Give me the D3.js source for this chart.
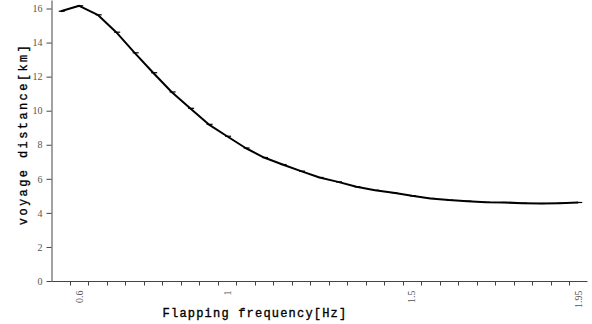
<!DOCTYPE html>
<html>
<head>
<meta charset="utf-8">
<script src="https://cdn.jsdelivr.net/npm/d3@7"></script>
<style>
    body { margin: 0; background: #fff; }
    svg { display: block; }
</style>
</head>
<body>
<svg id="chart" width="592" height="324"></svg>
<script>
// flapping frequency categories (Hz) and the voyage distance read at each
const frequencies = [0.55, 0.6, 0.65, 0.7, 0.75, 0.8, 0.85, 0.9, 0.95, 1, 1.05, 1.1, 1.15, 1.2, 1.25,
    1.3, 1.35, 1.4, 1.45, 1.5, 1.55, 1.6, 1.65, 1.7, 1.75, 1.8, 1.85, 1.9, 1.95];
const distances = [15.84, 16.16, 15.63, 14.61, 13.4, 12.23, 11.1, 10.14, 9.2, 8.5, 7.81, 7.25, 6.84, 6.45, 6.08,
    5.82, 5.53, 5.33, 5.18, 5.0, 4.85, 4.75, 4.69, 4.63, 4.61, 4.57, 4.55, 4.57, 4.61];
const xLabels = [0.6, 1, 1.5, 1.95];
const yTicks = [0, 2, 4, 6, 8, 10, 12, 14, 16];

const svg = d3.select('#chart');
const points = frequencies.map((f, i) => ({f: f, d: distances[i]}));

const x = d3.scaleBand()
    .domain(frequencies)
    .range([51.5, 587.5]);

const y = d3.scaleLinear()
    .domain([0, 16.5])
    .range([281, 0]);

// y axis
const yAxis = svg.append('g')
    .attr('transform', 'translate(51.5,0)')
    .call(d3.axisLeft(y).tickValues(yTicks).tickSize(5).tickSizeOuter(0).tickPadding(4));
yAxis.select('.domain').attr('stroke', '#444');
yAxis.selectAll('.tick line').attr('stroke', '#444');
yAxis.selectAll('.tick text')
    .attr('fill', '#555')
    .style('font', '10px "Liberation Serif", serif');

// x axis: ticks on category boundaries, labels at category centres
const xAxisG = svg.append('g').attr('transform', 'translate(0,281.5)');
xAxisG.append('line')
    .attr('x1', x.range()[0]).attr('x2', x.range()[1])
    .attr('stroke', '#444');
xAxisG.selectAll('line.tick')
    .data(frequencies.slice(1))
    .join('line')
    .attr('class', 'tick')
    .attr('x1', d => Math.round(x(d)) + 0.5).attr('x2', d => Math.round(x(d)) + 0.5)
    .attr('y1', 0).attr('y2', 4)
    .attr('stroke', '#444');
xAxisG.selectAll('text')
    .data(xLabels)
    .join('text')
    .attr('transform', d => `translate(${x(d) + x.bandwidth() / 2 + 3.5},9) rotate(-90)`)
    .attr('text-anchor', 'end')
    .attr('fill', '#555')
    .style('font', '10px "Liberation Serif", serif')
    .text(d => d);

// axis titles
svg.append('text')
    .attr('transform', 'translate(27,134) rotate(-90)')
    .attr('text-anchor', 'middle')
    .attr('fill', '#000')
    .attr('stroke', '#000')
    .attr('stroke-width', 0.35)
    .style('font', '12px "Liberation Mono", monospace')
    .style('letter-spacing', '2.4px')
    .text('voyage distance[km]');

svg.append('text')
    .attr('x', 255)
    .attr('y', 317)
    .attr('text-anchor', 'middle')
    .attr('fill', '#000')
    .attr('stroke', '#000')
    .attr('stroke-width', 0.35)
    .style('font', '12px "Liberation Mono", monospace')
    .style('letter-spacing', '1.2px')
    .text('Flapping frequency[Hz]');

// line through the points
const line = d3.line()
    .x(p => x(p.f) + x.bandwidth() / 2)
    .y(p => y(p.d));

svg.append('path')
    .datum(points)
    .attr('fill', 'none')
    .attr('stroke', '#000')
    .attr('stroke-width', 2)
    .attr('stroke-linejoin', 'round')
    .attr('d', line);

// dash markers
svg.append('g')
    .selectAll('line')
    .data(points)
    .join('line')
    .attr('x1', p => x(p.f) + x.bandwidth() / 2 - 2)
    .attr('x2', p => x(p.f) + x.bandwidth() / 2 + 4)
    .attr('y1', p => y(p.d))
    .attr('y2', p => y(p.d))
    .attr('stroke', '#000')
    .attr('stroke-width', 1.2);
</script>
</body>
</html>
